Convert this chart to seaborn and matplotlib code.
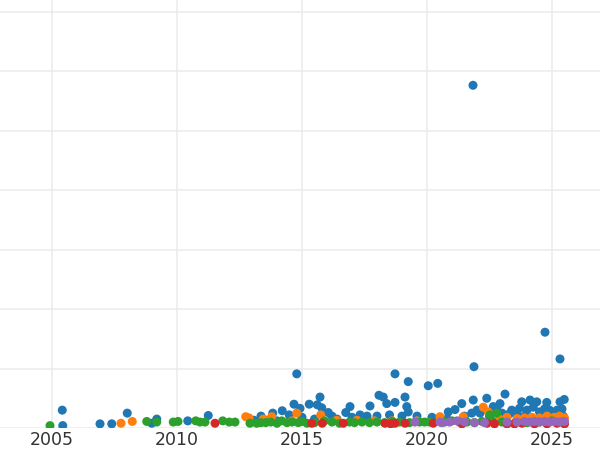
import pandas as pd
import seaborn as sns
import matplotlib.pyplot as plt

# datos (anio, valor)
azul_anio = [2005.41, 2005.43, 2006.92, 2007.39, 2008.01, 2008.99, 2009.19, 2010.43, 2011.25,
             2013.08, 2013.36, 2013.60, 2013.83, 2014.00, 2014.21, 2014.49, 2014.68, 2014.79,
             2014.92, 2015.00, 2015.29, 2015.50, 2015.61, 2015.72, 2015.79, 2016.05, 2016.20,
             2016.40, 2016.75, 2016.92, 2017.00, 2017.32, 2017.60, 2017.72, 2018.00, 2018.08,
             2018.25, 2018.39, 2018.50, 2018.72, 2018.72, 2019.00, 2019.12, 2019.19, 2019.25,
             2019.25, 2019.60, 2020.05, 2020.20, 2020.43, 2020.80, 2020.85, 2021.12, 2021.39,
             2021.50, 2021.79, 2021.84, 2021.85, 2021.88, 2022.12, 2022.39, 2022.50, 2022.65,
             2022.92, 2023.00, 2023.12, 2023.39, 2023.60, 2023.79, 2023.90, 2024.00, 2024.12,
             2024.39, 2024.50, 2024.60, 2024.72, 2024.79, 2024.90, 2025.00, 2025.20, 2025.32,
             2025.32, 2025.40, 2025.45, 2025.49, 2023.30, 2023.70, 2024.25, 2024.70, 2025.10,
             2022.00, 2022.80]
azul_valor = [0.30, 0.04, 0.07, 0.07, 0.25, 0.08, 0.15, 0.12, 0.21,
              0.13, 0.20, 0.13, 0.25, 0.12, 0.29, 0.22, 0.40, 0.91,
              0.33, 0.18, 0.40, 0.15, 0.39, 0.52, 0.34, 0.26, 0.20,
              0.15, 0.26, 0.36, 0.18, 0.22, 0.20, 0.37, 0.20, 0.55,
              0.52, 0.41, 0.22, 0.43, 0.91, 0.20, 0.52, 0.36, 0.27,
              0.78, 0.20, 0.71, 0.18, 0.75, 0.15, 0.27, 0.31, 0.41,
              0.20, 0.25, 5.76, 0.47, 1.03, 0.25, 0.50, 0.20, 0.36,
              0.41, 0.25, 0.57, 0.30, 0.22, 0.44, 0.20, 0.30, 0.47,
              0.44, 0.27, 0.20, 1.61, 0.43, 0.30, 0.20, 0.30, 1.16,
              0.44, 0.32, 0.20, 0.48, 0.24, 0.33, 0.35, 0.32, 0.26,
              0.30, 0.30]

naranja_anio = [2007.76, 2008.21, 2012.75, 2012.88, 2013.45, 2013.79, 2014.60, 2014.79, 2015.75,
                2016.39, 2017.20, 2017.90, 2018.60, 2019.60, 2020.52, 2021.45, 2022.25, 2022.45,
                2022.90, 2023.20, 2023.60, 2023.90, 2024.20, 2024.50, 2024.80, 2025.10, 2025.30,
                2025.50]
naranja_valor = [0.08, 0.11, 0.19, 0.17, 0.15, 0.19, 0.12, 0.25, 0.22,
                 0.13, 0.13, 0.12, 0.12, 0.12, 0.19, 0.19, 0.35, 0.27,
                 0.15, 0.18, 0.16, 0.17, 0.18, 0.17, 0.20, 0.18, 0.20,
                 0.17]

verde_anio = [2004.92, 2008.79, 2009.19, 2009.85, 2010.04, 2010.75, 2010.92, 2011.12, 2011.83,
              2012.09, 2012.32, 2012.92, 2013.19, 2013.35, 2013.55, 2013.75, 2014.00, 2014.19,
              2014.40, 2014.60, 2014.85, 2015.00, 2015.20, 2015.50, 2015.90, 2016.20, 2016.50,
              2016.90, 2017.10, 2017.40, 2017.70, 2018.00, 2018.30, 2018.60, 2018.90, 2019.30,
              2019.70, 2019.90, 2020.10, 2020.70, 2021.00, 2021.30, 2021.60, 2021.90, 2022.20,
              2022.52, 2022.60, 2022.79, 2023.00, 2023.50, 2024.00, 2024.50, 2025.00, 2025.40]
verde_valor = [0.04, 0.11, 0.10, 0.10, 0.11, 0.12, 0.10, 0.10, 0.12,
               0.10, 0.10, 0.08, 0.08, 0.09, 0.09, 0.10, 0.08, 0.12,
               0.09, 0.10, 0.09, 0.11, 0.08, 0.09, 0.12, 0.10, 0.08,
               0.10, 0.09, 0.10, 0.09, 0.10, 0.09, 0.11, 0.10, 0.09,
               0.10, 0.10, 0.10, 0.10, 0.12, 0.10, 0.10, 0.09, 0.11,
               0.22, 0.12, 0.25, 0.10, 0.08, 0.09, 0.10, 0.12, 0.10]

rojo_anio = [2011.52, 2015.39, 2015.81, 2016.65, 2018.32, 2018.55, 2018.72, 2019.12, 2020.25,
             2021.40, 2022.40, 2022.70, 2023.20, 2023.50, 2023.80, 2024.30, 2024.80, 2025.20,
             2025.50]
rojo_valor = [0.08, 0.08, 0.08, 0.08, 0.08, 0.07, 0.08, 0.08, 0.08,
              0.07, 0.08, 0.07, 0.07, 0.07, 0.08, 0.07, 0.07, 0.08,
              0.07]

morado_anio = [2019.52, 2020.52, 2020.60, 2020.90, 2021.20, 2021.50, 2021.90, 2022.30, 2023.20,
               2023.60, 2023.90, 2024.10, 2024.30, 2024.50, 2024.70, 2024.90, 2025.10, 2025.30,
               2025.50]
morado_valor = [0.10, 0.10, 0.09, 0.10, 0.12, 0.10, 0.09, 0.09, 0.10,
                0.10, 0.11, 0.10, 0.11, 0.10, 0.11, 0.10, 0.11, 0.10,
                0.11]

series = [('A', azul_anio, azul_valor), ('B', naranja_anio, naranja_valor),
          ('C', verde_anio, verde_valor), ('D', rojo_anio, rojo_valor),
          ('E', morado_anio, morado_valor)]

filas = []
for nombre, anios, valores in series:
    for a, v in zip(anios, valores):
        filas.append({'serie': nombre, 'anio': a, 'valor': v})
df = pd.DataFrame(filas)

sns.set_theme(style='whitegrid')
fig = plt.figure(figsize=(6, 4.5), dpi=100)
ax = fig.add_axes([0, 22 / 450, 1, 428 / 450])

sns.scatterplot(data=df, x='anio', y='valor', hue='serie', palette='tab10',
                s=42, linewidth=0, legend=False, ax=ax)

ax.set_xlim(2002.92, 2026.92)
ax.set_ylim(0, 428 / 59.5)
ax.set_xticks([2005, 2010, 2015, 2020, 2025])
ax.set_yticks(range(0, 8))
ax.set_yticklabels([])
ax.grid(True, color='#ebebeb', linewidth=1.1)
ax.tick_params(axis='x', length=0, pad=2.5, labelsize=12.5, labelcolor='#333333')
ax.tick_params(axis='y', length=0)
ax.set_xlabel('')
ax.set_ylabel('')
for s in ax.spines.values():
    s.set_visible(False)

fig.savefig('out.png', dpi=100)
